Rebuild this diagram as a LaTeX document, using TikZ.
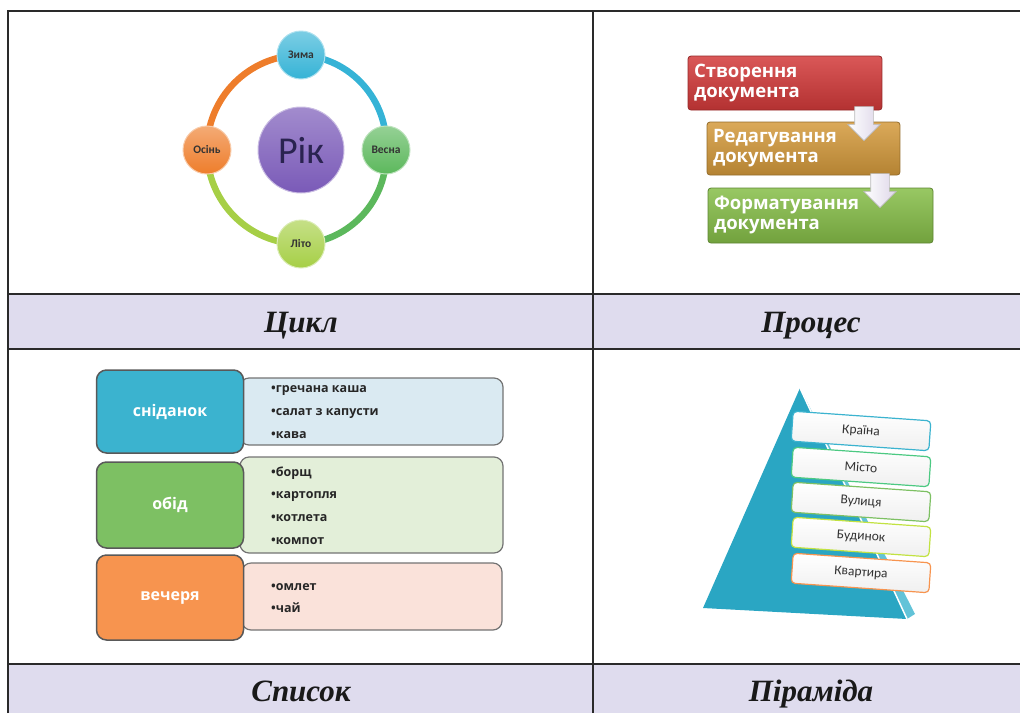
\documentclass[tikz,border=0pt]{standalone}
\usepackage{fontspec}
\setmainfont{DejaVu Serif}
\newfontfamily\capfont{Liberation Serif}
\newfontfamily\calfont{Carlito}
\newfontfamily\bsans{Open Sans}
\usetikzlibrary{shapes.arrows,backgrounds}
\definecolor{capbg}{HTML}{DFDCEE}
\definecolor{lineclr}{HTML}{2A2A2A}
\definecolor{zimaC}{HTML}{35B3D6}
\definecolor{vesnaC}{HTML}{5CB85C}
\definecolor{litoC}{HTML}{A6CF46}
\definecolor{osinC}{HTML}{EE7D2B}
\definecolor{rikC}{HTML}{7A5AB8}
\definecolor{rikT}{HTML}{2A2350}
\definecolor{redbox}{HTML}{D33A3A}
\definecolor{goldbox}{HTML}{D49A3C}
\definecolor{greenbox}{HTML}{86BE48}
\definecolor{breakC}{HTML}{3BB3CF}
\definecolor{lunchC}{HTML}{7DC063}
\definecolor{dinnerC}{HTML}{F7944F}
\definecolor{breakL}{HTML}{DAEAF2}
\definecolor{lunchL}{HTML}{E3EFD9}
\definecolor{dinnerL}{HTML}{FAE2DA}
\definecolor{pyrL}{HTML}{2AA6C3}
\definecolor{pyrR}{HTML}{62C3D8}
\definecolor{txtD}{HTML}{333333}
\definecolor{arrC}{HTML}{DDD6E8}
\begin{document}
\begin{tikzpicture}[x=1pt,y=-1pt,
  gridline/.style={draw=lineclr,line width=1.8pt},
  captxt/.style={font=\capfont\bfseries\itshape\fontsize{31}{34}\selectfont,text=black!90,anchor=base},
  season/.style={circle,minimum size=48pt,inner sep=0pt,draw=white!60!#1,line width=1pt,
    top color=white!35!#1,bottom color=#1,text=txtD,font=\calfont\bfseries\fontsize{11.5}{13}\selectfont},
  ring/.style={line width=6.5pt},
  procbox/.style={rounded corners=3pt,draw=#1!70!black,line width=0.8pt,top color=#1!85!white,bottom color=#1!85!black,
    text=white,align=left,inner xsep=6pt,anchor=center,
    font=\bsans\bfseries\fontsize{18.5}{20}\selectfont},
  downarrow/.style={single arrow,rotate=-90,single arrow head extend=7pt,minimum width=32pt,
    minimum height=34pt,inner xsep=0pt,inner ysep=9pt,left color=white,right color=arrC,draw=gray!55,line width=0.6pt},
  listL/.style={rounded corners=10pt,draw=black!65,line width=1.5pt,fill=#1,text=white,
    minimum width=147pt,font=\bsans\bfseries\fontsize{16}{18}\selectfont},
  listR/.style={rounded corners=9pt,draw=black!55,line width=1.2pt,fill=#1},
  items/.style={align=left,anchor=west,text=black!85,inner sep=0pt,
    font=\bsans\bfseries\fontsize{12.5}{22.7}\selectfont},
  pyrbox/.style={rounded corners=4pt,draw=#1,line width=1.2pt,top color=white,bottom color=black!6,
    minimum width=138pt,minimum height=30pt,rotate=-4,text=txtD,font=\calfont\fontsize{13.5}{15}\selectfont}
]
\useasboundingbox (0,0) rectangle (1020,713);
% caption rows
\fill[capbg] (8,294) rectangle (1020,349);
\fill[capbg] (8,664) rectangle (1020,713);
\draw[gridline] (8,713) -- (8,10.7) -- (1020,10.7);
\draw[gridline] (8,294) -- (1020,294);
\draw[gridline] (8,349) -- (1020,349);
\draw[gridline] (8,664) -- (1020,664);
\draw[draw=lineclr,line width=1.5pt] (593,10.7) -- (593,713);
\node[captxt] (c1) at (301,332) {Цикл};
\node[captxt] (c2) at (811,332) {Процес};
\node[captxt] (c3) at (301,701) {Список};
\node[captxt] (c4) at (811,701) {Піраміда};

% ---------- cycle ----------
\node[season=zimaC] (zima) at (301,55) {Зима};
\node[season=vesnaC] (vesna) at (386,150) {Весна};
\node[season=litoC] (lito) at (301,244) {Літо};
\node[season=osinC] (osin) at (207,150) {Осінь};
\node[circle,minimum size=86pt,inner sep=0pt,draw=white!60!rikC,line width=1pt,
  top color=white!30!rikC,bottom color=rikC,text=rikT,font=\calfont\fontsize{38}{40}\selectfont] (rik) at (301,150) {Рік};
\begin{pgfonlayer}{background}
\draw[ring,draw=zimaC] (zima.center) to[bend left=45] (vesna.center);
\draw[ring,draw=vesnaC] (vesna.center) to[bend left=45] (lito.center);
\draw[ring,draw=litoC] (lito.center) to[bend left=45] (osin.center);
\draw[ring,draw=osinC] (osin.center) to[bend left=45] (zima.center);
\end{pgfonlayer}

% ---------- process ----------
\node[procbox=redbox,minimum width=194pt,minimum height=54pt,text width=182pt] (p1) at (785,83) {Створення\\документа};
\node[procbox=goldbox,minimum width=193pt,minimum height=53pt,text width=181pt] (p2) at (803.5,148.5) {Редагування\\документа};
\node[procbox=greenbox,minimum width=225pt,minimum height=55pt,text width=213pt] (p3) at (820.5,215.5) {Форматування\\документа};
\node[downarrow] (a1) at (864,119) {};
\node[downarrow] (a2) at (880,186) {};

% ---------- list ----------
\node[listR=breakL,minimum width=263pt,minimum height=67pt] (r1) at (371.5,411.5) {};
\node[listR=lunchL,minimum width=263pt,minimum height=96pt] (r2) at (371.5,505) {};
\node[listR=dinnerL,minimum width=260pt,minimum height=67pt] (r3) at (372,596.5) {};
\node[listL=breakC,minimum height=83pt] (l1) at (170,411.5) {сніданок};
\node[listL=lunchC,minimum height=86pt] (l2) at (170,505) {обід};
\node[listL=dinnerC,minimum height=85pt] (l3) at (170,597.5) {вечеря};
\node[items] (i1) at (271,412) {•гречана каша\\•салат з капусти\\•кава};
\node[items] (i2) at (271,505.5) {•борщ\\•картопля\\•котлета\\•компот};
\node[items] (i3) at (271,598) {•омлет\\•чай};

% ---------- pyramid ----------
\fill[pyrL] (800,388) -- (703,608) -- (907,619) -- cycle;
\fill[pyrR] (800,388) -- (907,619) -- (915,614) -- cycle;
\draw[white,line width=1.5pt] (800,388) -- (907,619);
\node[pyrbox=breakC] (k1) at (861,431) {Країна};
\node[pyrbox=teal!60!green!70] (k2) at (861,467) {Місто};
\node[pyrbox=lunchC] (k3) at (861,502) {Вулиця};
\node[pyrbox=yellow!70!green!80] (k4) at (861,537) {Будинок};
\node[pyrbox=dinnerC] (k5) at (861,573) {Квартира};
\end{tikzpicture}
\end{document}
